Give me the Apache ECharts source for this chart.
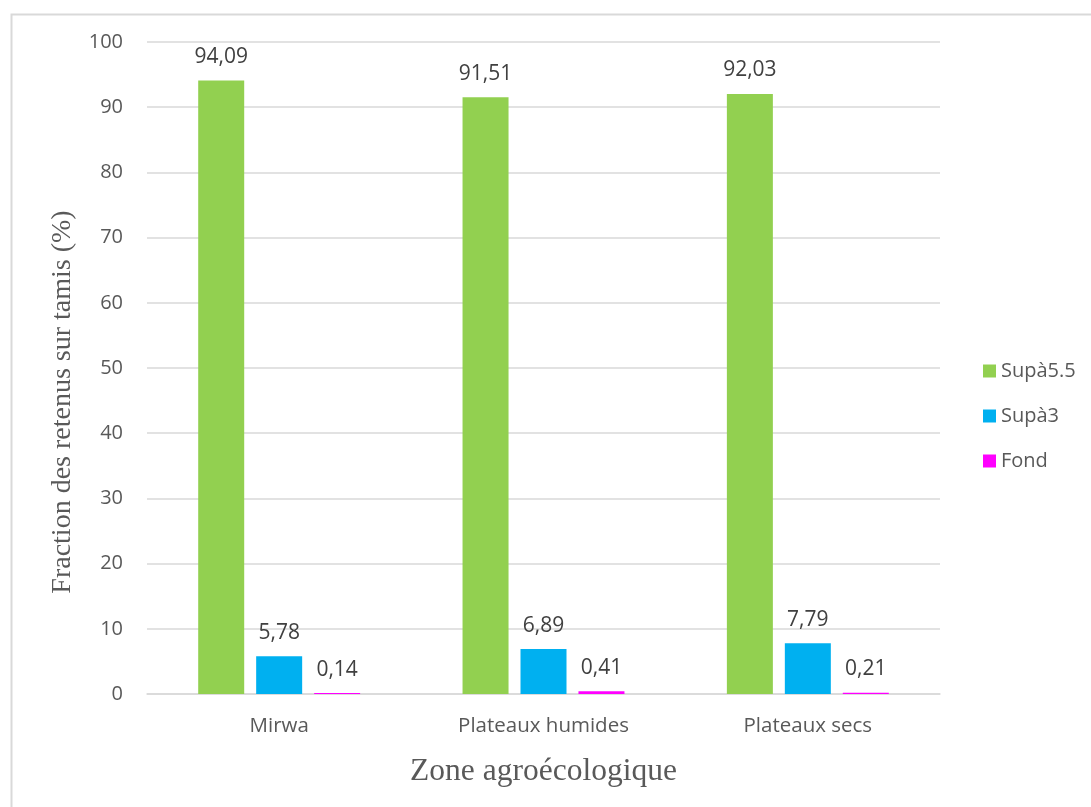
<!DOCTYPE html>
<html>
<head>
<meta charset="utf-8">
<script src="https://cdn.jsdelivr.net/npm/echarts@6/dist/echarts.min.js"></script>
<style>
  html, body { margin: 0; padding: 0; background: #fff; }
  #chart { width: 1091px; height: 807px; }
</style>
</head>
<body>
<div id="chart"></div>
<script>
// Zones and sieve fractions (%)
const zones = ['Mirwa', 'Plateaux humides', 'Plateaux secs'];
const supA55 = [94.09, 91.51, 92.03];
const supA3 = [5.78, 6.89, 7.79];
const fond = [0.14, 0.41, 0.21];
const seriesNames = ['Supà5.5', 'Supà3', 'Fond'];
const seriesColors = ['#92d050', '#00b0f0', '#ff00ff'];

const fmt = v => String(v.toFixed(2)).replace('.', ',');
const sans = '"Open Sans", "Noto Sans", sans-serif';
const serif = '"Liberation Serif", "DejaVu Serif", serif';

function barSeries(name, data, color) {
  return {
    name: name,
    type: 'bar',
    data: data,
    barWidth: 46,
    barGap: '26%',
    itemStyle: { color: color },
    label: {
      show: true,
      position: 'top',
      distance: 13,
      color: '#404040',
      fontFamily: sans,
      fontSize: 21,
      formatter: p => fmt(p.value)
    }
  };
}

const chart = echarts.init(document.getElementById('chart'), null, { renderer: 'canvas' });
chart.setOption({
  animation: false,
  backgroundColor: '#fff',
  graphic: [
    {
      type: 'rect',
      left: 9, top: 12,
      shape: { width: 1200, height: 900 },
      style: { fill: 'none', stroke: '#d9d9d9', lineWidth: 2 },
      silent: true
    },
    {
      // vertical axis title
      type: 'text',
      x: 63, y: 402,
      rotation: Math.PI / 2,
      style: {
        text: 'Fraction des retenus sur tamis (%)',
        fill: '#595959',
        font: '28px "Liberation Serif", "DejaVu Serif", serif',
        textAlign: 'center',
        textVerticalAlign: 'middle'
      },
      silent: true
    }
  ],
  grid: { left: 147, right: 151, top: 42, bottom: 113 },
  legend: {
    orient: 'vertical',
    left: 978, top: 356,
    itemWidth: 13, itemHeight: 13,
    itemGap: 25,
    icon: 'rect',
    textStyle: { color: '#595959', fontFamily: sans, fontSize: 20 },
    data: seriesNames
  },
  xAxis: {
    type: 'category',
    data: zones,
    name: 'Zone agroécologique',
    nameLocation: 'middle',
    nameGap: 62,
    nameTextStyle: { color: '#595959', fontFamily: serif, fontSize: 31.5 },
    axisLine: { lineStyle: { color: '#d9d9d9', width: 1.5 } },
    axisTick: { show: false },
    axisLabel: { color: '#595959', fontFamily: sans, fontSize: 20.5, margin: 22 }
  },
  yAxis: {
    type: 'value',
    min: 0, max: 100, interval: 10,
    axisLine: { show: false },
    axisTick: { show: false },
    splitLine: { lineStyle: { color: '#d9d9d9', width: 1.5 } },
    axisLabel: { color: '#595959', fontFamily: sans, fontSize: 20, margin: 24 }
  },
  series: [
    barSeries(seriesNames[0], supA55, seriesColors[0]),
    barSeries(seriesNames[1], supA3, seriesColors[1]),
    barSeries(seriesNames[2], fond, seriesColors[2])
  ]
});
</script>
</body>
</html>
